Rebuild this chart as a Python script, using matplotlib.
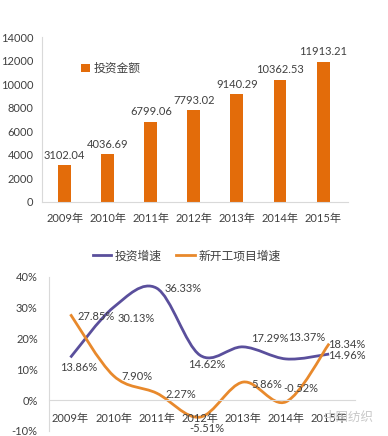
import matplotlib
matplotlib.use("Agg")
import matplotlib.pyplot as plt
from matplotlib.path import Path
from matplotlib.patches import PathPatch

plt.rcParams['font.family'] = ['Lato', 'Noto Sans CJK SC', 'DejaVu Sans']

years = ['2009年', '2010年', '2011年', '2012年', '2013年', '2014年', '2015年']
invest = [3102.04, 4036.69, 6799.06, 7793.02, 9140.29, 10362.53, 11913.21]
invest_growth = [13.86, 30.13, 36.33, 14.62, 17.29, 13.37, 14.96]
new_growth = [27.85, 7.90, 2.27, -5.51, 5.86, -0.52, 18.34]

# label offsets in pixels (dx, dy)
inv_off = [(8, -10), (23, -11), (26, 0), (7, -9), (27, 8), (21, 21), (18, -1)]
new_off = [(26, -2), (23, -1), (24, -1), (7, -11), (24, -2), (15, 13), (18, -1)]

BAR = '#E36C0A'
PURPLE = '#5A4F9C'
ORANGE = '#E8892C'
TXT = '#404040'
AXC = '#D9D9D9'


def smooth_path(xs, ys):
    pts = list(zip(xs, ys))
    n = len(pts)
    verts = [pts[0]]
    codes = [Path.MOVETO]
    for i in range(n - 1):
        p0 = pts[i - 1] if i > 0 else pts[i]
        p1 = pts[i]
        p2 = pts[i + 1]
        p3 = pts[i + 2] if i + 2 < n else pts[i + 1]
        c1 = (p1[0] + (p2[0] - p0[0]) / 6, p1[1] + (p2[1] - p0[1]) / 6)
        c2 = (p2[0] - (p3[0] - p1[0]) / 6, p2[1] - (p3[1] - p1[1]) / 6)
        verts += [c1, c2, p2]
        codes += [Path.CURVE4] * 3
    return Path(verts, codes)


fig = plt.figure(figsize=(3.88, 4.36), dpi=100)

# top: bar chart
ax1 = fig.add_axes([0.108, 0.537, 0.789, 0.378])
x = range(len(years))
bars = ax1.bar(x, invest, width=0.3, color=BAR, label='投资金额')
for xi, v in zip(x, invest):
    ax1.annotate(f'{v:.2f}', (xi, v), xytext=(0, 10), textcoords='offset pixels',
                 ha='center', va='center', fontsize=8, color=TXT)
ax1.set_ylim(0, 14000)
ax1.set_xlim(-0.53, 6.58)
ax1.set_yticks(range(0, 14001, 2000))
ax1.set_xticks(list(x))
ax1.set_xticklabels(years)
ax1.tick_params(length=0, labelsize=8, colors=TXT)
ax1.tick_params(axis='x', pad=8)
ax1.tick_params(axis='y', pad=6)
for s in ['top', 'right']:
    ax1.spines[s].set_visible(False)
for s in ['left', 'bottom']:
    ax1.spines[s].set_color(AXC)
ax1.legend(loc='upper left', bbox_to_anchor=(0.11, 0.88), frameon=False,
           handlelength=0.7, handleheight=0.7, handletextpad=0.3,
           borderpad=0, fontsize=8.5, labelcolor=TXT)

# bottom: smoothed lines
ax2 = fig.add_axes([0.126, 0.0115, 0.789, 0.3535])
for ys, col, lab in [(invest_growth, PURPLE, '投资增速'), (new_growth, ORANGE, '新开工项目增速')]:
    ax2.add_patch(PathPatch(smooth_path(list(x), ys), facecolor='none',
                            edgecolor=col, lw=2))
    ax2.plot([], [], color=col, lw=2, label=lab)
for xi, v, (dx, dy) in zip(x, invest_growth, inv_off):
    ax2.annotate(f'{v:.2f}%', (xi, v), xytext=(dx, dy), textcoords='offset pixels',
                 ha='center', va='center', fontsize=8, color=TXT)
for xi, v, (dx, dy) in zip(x, new_growth, new_off):
    ax2.annotate(f'{v:.2f}%', (xi, v), xytext=(dx, dy), textcoords='offset pixels',
                 ha='center', va='center', fontsize=8, color=TXT)
ax2.set_ylim(-10, 40)
ax2.set_xlim(-0.5, 6.6)
ax2.set_yticks(range(-10, 41, 10))
ax2.set_yticklabels([f'{t}%' for t in range(-10, 41, 10)])
ax2.set_xticks(list(x))
ax2.set_xticklabels(years)
ax2.tick_params(length=0, labelsize=8, colors=TXT)
ax2.tick_params(axis='x', pad=9)
ax2.tick_params(axis='y', pad=8)
ax2.spines['bottom'].set_position(('data', 0))
for s in ['top', 'right']:
    ax2.spines[s].set_visible(False)
for s in ['left', 'bottom']:
    ax2.spines[s].set_color(AXC)
ax2.legend(loc='lower center', bbox_to_anchor=(0.45, 1.03), ncol=2, frameon=False,
           handlelength=1.6, handletextpad=0.3, columnspacing=1.2,
           fontsize=8.5, labelcolor=TXT)

fig.text(0.9, 0.043, '中国纺织', fontsize=9, color='#C8C8C8', ha='center', va='center')

fig.savefig('out.png', dpi=100)
